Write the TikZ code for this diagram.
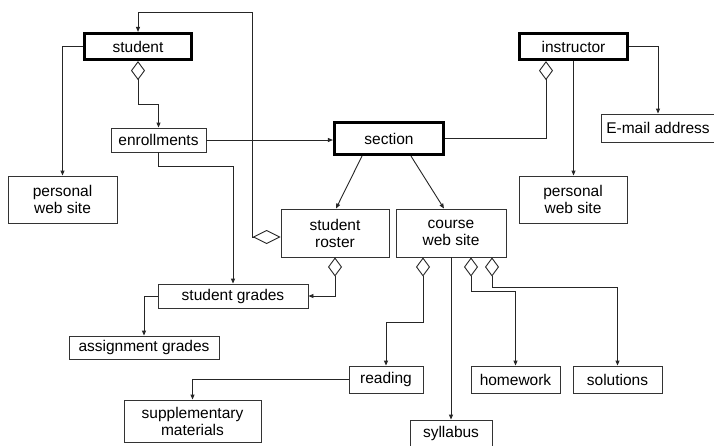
\documentclass[tikz,border=0pt]{standalone}
\usepackage{fontspec}
\setmainfont{Liberation Sans}
\usetikzlibrary{arrows.meta}
\tikzset{
  box/.style={draw=black!80, line width=0.9pt, fill=white, inner sep=1pt, align=center, font=\fontsize{15.5}{17}\selectfont, text=black},
  bold/.style={box, draw=black, line width=3.2pt},
  conn/.style={draw=black!85, line width=0.9pt, -{Triangle[length=5pt,width=4pt]}},
  agg/.style={draw=black!85, line width=0.9pt, {Diamond[open,length=19pt,width=14pt]}-{Triangle[length=5pt,width=4pt]}},
  aggl/.style={draw=black!85, line width=0.9pt, {Diamond[open,length=28pt,width=14pt]}-{Triangle[length=5pt,width=4pt]}},
  aggn/.style={draw=black!85, line width=0.9pt, {Diamond[open,length=19pt,width=14pt]}-}
}
\begin{document}
\begin{tikzpicture}[x=1pt,y=-1pt]
\clip (0,0) rectangle (714,445);
\useasboundingbox (0,0) rectangle (714,445);
\fill[white] (0,0) rectangle (714,445);
% nodes
\node[bold, minimum width=107pt, minimum height=26pt] (student) at (138,46.5) {student};
\node[bold, minimum width=108pt, minimum height=26pt] (instructor) at (573.5,46.5) {instructor};
\node[bold, minimum width=109pt, minimum height=32pt] (section) at (389,138.5) {section};
\node[box, minimum width=95pt, minimum height=24pt] (enroll) at (158.5,140) {enrollments};
\node[box, minimum width=109pt, minimum height=47pt] (pwsL) at (62.5,199.5) {personal\\web site};
\node[box, minimum width=108pt, minimum height=47pt] (pwsR) at (573,199.5) {personal\\web site};
\node[box, minimum width=114pt, minimum height=28pt] (email) at (658,128) {E-mail address};
\node[box, minimum width=108pt, minimum height=48pt] (roster) at (335,233) {student\\roster};
\node[box, minimum width=110pt, minimum height=48pt] (cws) at (451,233) {course\\web site};
\node[box, minimum width=150pt, minimum height=24pt] (grades) at (233,296) {student grades};
\node[box, minimum width=150pt, minimum height=23pt] (assign) at (144,347.5) {assignment grades};
\node[box, minimum width=74pt, minimum height=27pt] (reading) at (386,379.5) {reading};
\node[box, minimum width=89pt, minimum height=27pt] (homework) at (515.5,379.5) {homework};
\node[box, minimum width=89pt, minimum height=27pt] (solutions) at (617.5,379.5) {solutions};
\node[box, minimum width=137pt, minimum height=42pt] (supp) at (192.5,421) {supplementary\\materials};
\node[box, minimum width=82pt, minimum height=27pt] (syllabus) at (451,433.5) {syllabus};
% connectors
\draw[conn] (student.west) -| (pwsL.north);
\draw[agg] (student.south) -- (138,104) -| (enroll.north);
\draw[conn] (enroll.east) -- (enroll.east -| section.west);
\draw[conn] (enroll.south) -- (158.5,166) -| (grades.north);
\draw[agg] (roster.south) |- (grades.east);
\draw[conn] (grades.west) -| (assign.north);
\draw[aggl] ([yshift=-4pt]roster.west) -- ++(-28,0) |- (138,12) -- (student.north);
\draw[conn] ([xshift=-27pt]section.south) -- ([xshift=1pt]roster.north);
\draw[conn] ([xshift=22pt]section.south) -- ([xshift=-7pt]cws.north);
\draw[aggn] ([xshift=-27.5pt]instructor.south) |- (section.east);
\draw[conn] (instructor.south) -- (instructor.south |- pwsR.north);
\draw[conn] (instructor.east) -| (email.north);
\draw[agg] ([xshift=-28pt]cws.south) -- ++(0,65) -| (reading.north);
\draw[conn] (cws.south) -- (syllabus.north);
\draw[agg] ([xshift=20pt]cws.south) -- ++(0,34) -| (homework.north);
\draw[agg] ([xshift=41pt]cws.south) -- ++(0,30) -| (solutions.north);
\draw[conn] (reading.west) -| (supp.north);
\end{tikzpicture}
\end{document}
